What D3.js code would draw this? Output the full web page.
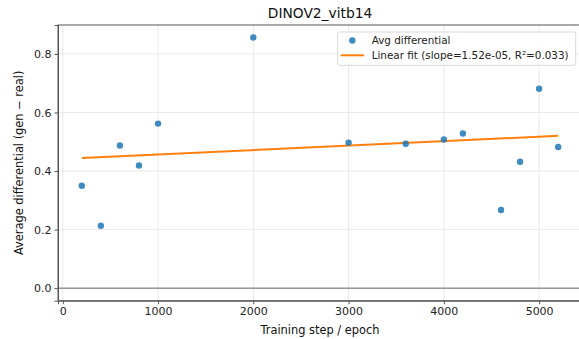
<!DOCTYPE html>
<html>
<head>
<meta charset="utf-8">
<script src="https://cdn.jsdelivr.net/npm/d3@7/dist/d3.min.js"></script>
<style>
  html, body { margin: 0; padding: 0; background: #fff; }
  svg { display: block; font-family: "DejaVu Sans", sans-serif; }
</style>
</head>
<body>
<svg id="chart" width="579" height="339"></svg>
<script>
// Training steps and average differential (gen − real) per checkpoint
const steps = [200, 400, 600, 800, 1000, 2000, 3000, 3600, 4000, 4200, 4600, 4800, 5000, 5200];
const avgDiff = [0.350, 0.213, 0.487, 0.419, 0.562, 0.856, 0.497, 0.493, 0.508, 0.528, 0.267, 0.432, 0.681, 0.482];
const fitSlope = 1.52e-5;
const fitR2 = 0.033;
const xTicks = [0, 1000, 2000, 3000, 4000, 5000];
const yTicks = [0.0, 0.2, 0.4, 0.6, 0.8];

const W = 579, H = 339;
const plot = { left: 58, top: 25, right: 582, bottom: 300.7 };

const svg = d3.select("#chart");

// Axis limits with 5% padding around the data (y includes the zero line)
const xMin = d3.min(steps), xMax = d3.max(steps);
const xPad = (xMax - xMin) * 0.05;
const yLo = 0, yHi = d3.max(avgDiff);
const yPad = (yHi - yLo) * 0.05;

const x = d3.scaleLinear().domain([xMin - xPad, xMax + xPad]).range([plot.left, plot.right]);
const y = d3.scaleLinear().domain([yLo - yPad, yHi + yPad]).range([plot.bottom, plot.top]);

// Grid
const grid = svg.append("g").attr("stroke", "#e6e6e6").attr("stroke-width", 0.9);
grid.selectAll("line.gx").data(xTicks).join("line")
  .attr("x1", d => x(d)).attr("x2", d => x(d))
  .attr("y1", plot.top).attr("y2", plot.bottom);
grid.selectAll("line.gy").data(yTicks).join("line")
  .attr("x1", plot.left).attr("x2", plot.right)
  .attr("y1", d => y(d)).attr("y2", d => y(d));

// Zero reference line
svg.append("line")
  .attr("x1", plot.left).attr("x2", plot.right)
  .attr("y1", y(0)).attr("y2", y(0))
  .attr("stroke", "#666").attr("stroke-width", 1);

// Linear fit through the mean point
const mx = d3.mean(steps), my = d3.mean(avgDiff);
const intercept = my - fitSlope * mx;
const fitLine = d3.line().x(d => x(d)).y(d => y(intercept + fitSlope * d));
svg.append("path")
  .attr("d", fitLine([xMin, xMax]))
  .attr("fill", "none").attr("stroke", "#ff7f0e").attr("stroke-width", 2);

// Points
svg.append("g").selectAll("circle").data(steps).join("circle")
  .attr("cx", (d) => x(d))
  .attr("cy", (d, i) => y(avgDiff[i]))
  .attr("r", 3.2)
  .attr("fill", "#1f77b4").attr("fill-opacity", 0.85);

// Frame (right side lies beyond the canvas)
svg.append("rect")
  .attr("x", plot.left).attr("y", plot.top)
  .attr("width", plot.right - plot.left).attr("height", plot.bottom - plot.top)
  .attr("fill", "none").attr("stroke", "#555").attr("stroke-width", 1);

// Axes
const xAxis = svg.append("g").attr("transform", `translate(0,${plot.bottom})`)
  .call(d3.axisBottom(x).tickValues(xTicks).tickFormat(d3.format("d")).tickSize(3.5).tickPadding(3));
const yAxis = svg.append("g").attr("transform", `translate(${plot.left},0)`)
  .call(d3.axisLeft(y).tickValues(yTicks).tickFormat(d3.format(".1f")).tickSize(3.5).tickPadding(3));
[xAxis, yAxis].forEach(a => {
  a.select(".domain").attr("stroke", "#555").attr("stroke-width", 1);
  a.selectAll(".tick line").attr("stroke", "#555");
  a.selectAll(".tick text").attr("fill", "#222").style("font-size", "11px")
    .style("font-family", "DejaVu Sans, sans-serif");
});

// Title and axis labels
svg.append("text")
  .attr("x", (plot.left + plot.right) / 2).attr("y", 18)
  .attr("text-anchor", "middle").attr("fill", "#111")
  .style("font-size", "13.8px").text("DINOV2_vitb14");
svg.append("text")
  .attr("x", (plot.left + plot.right) / 2).attr("y", 334)
  .attr("text-anchor", "middle").attr("fill", "#111")
  .style("font-size", "11.4px").text("Training step / epoch");
svg.append("text")
  .attr("transform", `translate(23,${(plot.top + plot.bottom) / 2}) rotate(-90)`)
  .attr("text-anchor", "middle").attr("fill", "#111")
  .style("font-size", "11.4px").text("Average differential (gen − real)");

// Legend
const lg = svg.append("g");
lg.append("rect")
  .attr("x", 337.7).attr("y", 32).attr("width", 238).attr("height", 33.3)
  .attr("rx", 2).attr("fill", "#fff").attr("fill-opacity", 0.85)
  .attr("stroke", "#d8d8d8").attr("stroke-width", 1);
lg.append("circle").attr("cx", 352.3).attr("cy", 40.5).attr("r", 3.2)
  .attr("fill", "#1f77b4").attr("fill-opacity", 0.85);
lg.append("line").attr("x1", 340.7).attr("x2", 364).attr("y1", 55.3).attr("y2", 55.3)
  .attr("stroke", "#ff7f0e").attr("stroke-width", 2);
lg.append("text").attr("x", 371.7).attr("y", 44.3).attr("fill", "#222")
  .style("font-size", "10.4px").text("Avg differential");
lg.append("text").attr("x", 371.7).attr("y", 59.2).attr("fill", "#222")
  .style("font-size", "10.4px")
  .text(`Linear fit (slope=${fitSlope.toExponential(2).replace("e-", "e-0")}, R²=${fitR2.toFixed(3)})`);
</script>
</body>
</html>
